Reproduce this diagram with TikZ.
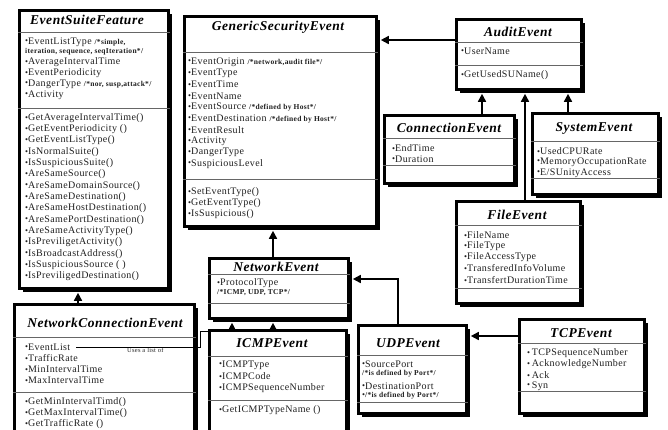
\documentclass[tikz,border=0pt]{standalone}
\usepackage{fontspec}
\setmainfont{Liberation Serif}
\newfontfamily\attrfont[LetterSpace=4]{Liberation Serif}
\newfontfamily\ttlfont[LetterSpace=4]{Liberation Serif}
\usetikzlibrary{arrows.meta,shadows}
\newcommand\bul{\raisebox{0.3pt}{\fontsize{8.5}{8.5}\selectfont •}}
\newcommand\cmt[1]{{\fontsize{7.5}{8}\selectfont\bfseries #1}}
\begin{document}
\begin{tikzpicture}[x=1pt,y=-1pt,
 box/.style={draw=black, line width=2.6pt, fill=white, inner sep=0pt, anchor=north west,
   drop shadow={shadow xshift=3.2pt, shadow yshift=-3.2pt, opacity=1, fill=black}},
 ttl/.style={font=\ttlfont\bfseries\itshape\fontsize{13.5}{14}\selectfont, inner sep=0pt, anchor=center},
 attr/.style={font=\attrfont\fontsize{10}{11}\selectfont, text=black!88, inner sep=0pt, anchor=west},
 sep/.style={draw=black!60, line width=0.9pt},
 conn/.style={draw=black, line width=1.6pt, shorten >=3.2pt, -{Triangle[width=8pt,length=8pt]}},
 uses/.style={draw=black, line width=0.9pt, shorten >=3.2pt, -{Triangle[width=6pt,length=6pt]}},
 lbl/.style={font=\attrfont\fontsize{6.5}{7}\selectfont, text=black!85, inner sep=0pt, anchor=north west}
]
\useasboundingbox (0,0) rectangle (668,429);
\clip (0,0) rectangle (668,429);
\fill[white] (0,0) rectangle (668,429);

% ---------------- EventSuiteFeature
\node[box, minimum width=149pt, minimum height=278pt] (esf) at (18,9) {};
\node[ttl] (esf-t) at (87,20) {EventSuiteFeature};
\draw[sep] (esf.west |- 0,32) -- (esf.east |- 0,32);
\draw[sep] (esf.west |- 0,108) -- (esf.east |- 0,108);
\node[attr] (esf-a1) at (25,42) {\bul EventListType \cmt{/*simple,}};
\node[attr] (esf-a2) at (25,52) {\cmt{iteration, sequence, seqIteration*/}};
\node[attr] (esf-a3) at (25,62) {\bul AverageIntervalTime};
\node[attr] (esf-a4) at (25,73) {\bul EventPeriodicity};
\node[attr] (esf-a5) at (25,84) {\bul DangerType \cmt{/*nor, susp,attack*/}};
\node[attr] (esf-a6) at (25,95) {\bul Activity};
\foreach \t [count=\i] in {GetAverageIntervalTime(), GetEventPeriodicity (), GetEventListType(),
  IsNormalSuite(), IsSuspiciousSuite(), AreSameSource(), AreSameDomainSource(),
  AreSameDestination(), AreSameHostDestination(), AreSamePortDestination(),
  AreSameActivityType(), IsPreviligetActivity(), IsBroadcastAddress(),
  IsSuspiciousSource ( ), IsPreviligedDestination()}
  \node[attr] (esf-m\i) at (25,{118+11.3*(\i-1)}) {\bul\t};

% ---------------- GenericSecurityEvent
\node[box, minimum width=192pt, minimum height=210pt] (gse) at (183,15) {};
\node[ttl] (gse-t) at (278,27) {GenericSecurityEvent};
\draw[sep] (gse.west |- 0,52) -- (gse.east |- 0,52);
\draw[sep] (gse.west |- 0,179) -- (gse.east |- 0,179);
\foreach \t [count=\i] in {{EventOrigin \cmt{/*network,audit file*/}}, EventType, EventTime, EventName,
  {EventSource \cmt{/*defined by Host*/}}, {EventDestination \cmt{/*defined by Host*/}},
  EventResult, Activity, DangerType, SuspiciousLevel}
  \node[attr] (gse-a\i) at (188,{62+11.3*(\i-1)}) {\bul\t};
\foreach \t [count=\i] in {SetEventType(), GetEventType(), IsSuspicious()}
  \node[attr] (gse-m\i) at (188,{192+11*(\i-1)}) {\bul\t};

% ---------------- AuditEvent
\node[box, minimum width=125pt, minimum height=70pt] (aud) at (455,18) {};
\node[ttl] (aud-t) at (518,32) {AuditEvent};
\draw[sep] (aud.west |- 0,42) -- (aud.east |- 0,42);
\draw[sep] (aud.west |- 0,65) -- (aud.east |- 0,65);
\node[attr] (aud-a1) at (461,51) {\bul UserName};
\node[attr] (aud-m1) at (461,75) {\bul GetUsedSUName()};

% ---------------- ConnectionEvent
\node[box, minimum width=130pt, minimum height=68pt] (ce) at (383,114) {};
\node[ttl] (ce-t) at (449,128) {ConnectionEvent};
\draw[sep] (ce.west |- 0,138) -- (ce.east |- 0,138);
\draw[sep] (ce.west |- 0,165) -- (ce.east |- 0,165);
\node[attr] (ce-a1) at (392,148) {\bul EndTime};
\node[attr] (ce-a2) at (392,159) {\bul Duration};

% ---------------- SystemEvent
\node[box, minimum width=126pt, minimum height=81pt] (se) at (531,112) {};
\node[ttl] (se-t) at (594,128) {SystemEvent};
\draw[sep] (se.west |- 0,141) -- (se.east |- 0,141);
\draw[sep] (se.west |- 0,178) -- (se.east |- 0,178);
\node[attr] (se-a1) at (537,151) {\bul UsedCPURate};
\node[attr] (se-a2) at (537,162) {\bul MemoryOccupationRate};
\node[attr] (se-a3) at (537,173) {\bul E/SUnityAccess};

% ---------------- FileEvent
\node[box, minimum width=124pt, minimum height=102pt] (fe) at (455,200) {};
\node[ttl] (fe-t) at (517,215) {FileEvent};
\draw[sep] (fe.west |- 0,225) -- (fe.east |- 0,225);
\draw[sep] (fe.west |- 0,288) -- (fe.east |- 0,288);
\node[attr] (fe-a1) at (464,235) {\bul FileName};
\node[attr] (fe-a2) at (464,246) {\bul FileType};
\node[attr] (fe-a3) at (464,257) {\bul FileAccessType};
\node[attr] (fe-a4) at (464,268) {\bul TransferedInfoVolume};
\node[attr] (fe-a5) at (464,280) {\bul TransfertDurationTime};

% ---------------- NetworkEvent
\node[box, minimum width=139pt, minimum height=60pt] (ne) at (208,257) {};
\node[ttl] (ne-t) at (276,267) {NetworkEvent};
\draw[sep] (ne.west |- 0,274) -- (ne.east |- 0,274);
\draw[sep] (ne.west |- 0,303) -- (ne.east |- 0,303);
\node[attr] (ne-a1) at (217,283) {\bul ProtocolType};
\node[attr] (ne-a2) at (217,293) {\cmt{/*ICMP, UDP, TCP*/}};

% ---------------- ICMPEvent
\node[box, minimum width=137pt, minimum height=116pt] (icmp) at (208,329) {};
\node[ttl] (icmp-t) at (272,343) {ICMPEvent};
\draw[sep] (icmp.west |- 0,356) -- (icmp.east |- 0,356);
\draw[sep] (icmp.west |- 0,400) -- (icmp.east |- 0,400);
\node[attr] (icmp-a1) at (219,365) {\bul ICMPType};
\node[attr] (icmp-a2) at (219,376) {\bul ICMPCode};
\node[attr] (icmp-a3) at (219,388) {\bul ICMPSequenceNumber};
\node[attr] (icmp-m1) at (219,410) {\bul GetICMPTypeName ()};

% ---------------- UDPEvent
\node[box, minimum width=108pt, minimum height=88pt] (udp) at (357,324) {};
\node[ttl] (udp-t) at (408,343) {UDPEvent};
\draw[sep] (udp.west |- 0,355) -- (udp.east |- 0,355);
\draw[sep] (udp.west |- 0,402) -- (udp.east |- 0,402);
\node[attr] (udp-a1) at (362,364) {\bul SourcePort};
\node[attr] (udp-a2) at (362,374) {\cmt{/*is defined by Port*/}};
\node[attr] (udp-a3) at (362,386) {\bul DestinationPort};
\node[attr] (udp-a4) at (362,396) {\bul\cmt{/*is defined by Port*/}};

% ---------------- TCPEvent
\node[box, minimum width=125pt, minimum height=94pt] (tcp) at (518,318) {};
\node[ttl] (tcp-t) at (581,333) {TCPEvent};
\draw[sep] (tcp.west |- 0,343) -- (tcp.east |- 0,343);
\draw[sep] (tcp.west |- 0,391) -- (tcp.east |- 0,391);
\node[attr] (tcp-a1) at (527,353) {\bul\,TCPSequenceNumber};
\node[attr] (tcp-a2) at (527,364) {\bul\,AcknowledgeNumber};
\node[attr] (tcp-a3) at (527,375) {\bul\,Ack};
\node[attr] (tcp-a4) at (527,386) {\bul\,Syn};

% ---------------- NetworkConnectionEvent
\node[box, minimum width=180pt, minimum height=142pt] (nce) at (13,303) {};
\node[ttl] (nce-t) at (105,323) {NetworkConnectionEvent};
\draw[sep] (nce.west |- 0,337) -- (nce.east |- 0,337);
\draw[sep] (nce.west |- 0,392) -- (nce.east |- 0,392);
\foreach \t [count=\i] in {EventList, TrafficRate, MinIntervalTime, MaxIntervalTime}
  \node[attr] (nce-a\i) at (25,{347+11*(\i-1)}) {\bul\t};
\foreach \t [count=\i] in {GetMinIntervalTimd(), GetMaxIntervalTime(), GetTrafficRate ()}
  \node[attr] (nce-m\i) at (25,{402+11.2*(\i-1)}) {\bul\t};
\node[lbl] (nce-lbl) at (127,348) {Uses a list of};

% ---------------- connectors
\coordinate (usebend) at (200,331);
\draw[uses] ([xshift=6pt]nce-a1.east) -| (usebend) -| (ne.south -| 232,0);
\draw[conn] (nce.north -| 78,0) -- (esf.south -| 78,0);
\draw[conn] (ne.north -| 273,0) -- (gse.south -| 273,0);
\draw[conn] (icmp.north -| 273,0) -- (ne.south -| 273,0);
\draw[conn] (udp.north -| 398,0) |- (ne.east |- 0,279);
\draw[conn] (tcp.west |- 0,336) -- (udp.east |- 0,336);
\draw[conn] (aud.west |- 0,40) -- (gse.east |- 0,40);
\draw[conn] (ce.north -| 482,0) -- (aud.south -| 482,0);
\draw[conn] (fe.north -| 525,0) -- (aud.south -| 525,0);
\draw[conn] (se.north -| 568,0) -- (aud.south -| 568,0);
\end{tikzpicture}
\end{document}
